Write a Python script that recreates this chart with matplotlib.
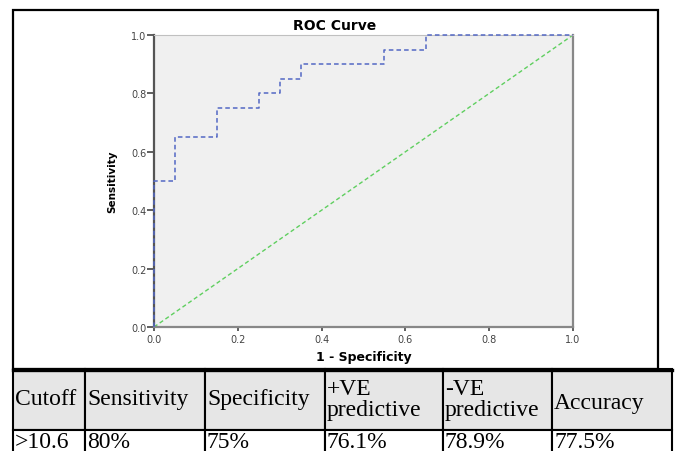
import matplotlib
matplotlib.use("Agg")
import matplotlib.pyplot as plt
from matplotlib.patches import Rectangle

# ROC curve corners (steps-post) and reference diagonal
fpr = [0.0, 0.0, 0.05, 0.15, 0.25, 0.30, 0.35, 0.55, 0.65, 1.0]
tpr = [0.0, 0.5, 0.65, 0.75, 0.80, 0.85, 0.90, 0.95, 1.0, 1.0]
diag_x = [0.0, 1.0]
diag_y = [0.0, 1.0]
ticks = [0.0, 0.2, 0.4, 0.6, 0.8, 1.0]
tick_labels = ["0.0", "0.2", "0.4", "0.6", "0.8", "1.0"]

# summary table under the chart
header = ["Cutoff", "Sensitivity", "Specificity", "+VE\npredictive", "-VE\npredictive", "Accuracy"]
row = [">10.6", "80%", "75%", "76.1%", "78.9%", "77.5%"]

W, H = 675, 452
fig = plt.figure(figsize=(W / 100, H / 100), dpi=100)

# overlay in pixel coordinates for the frame and the table
ov = fig.add_axes([0, 0, 1, 1], zorder=0)
ov.set_xlim(0, W)
ov.set_ylim(H, 0)
ov.axis("off")

ov.add_patch(Rectangle((13, 11), 645, 359, fill=False, ec="black", lw=1.6))

col_edges = [13, 85, 205, 325, 443, 552, 672]
head_top, head_bot, data_bot = 370, 431, 470
for i, txt in enumerate(header):
    x0, x1 = col_edges[i], col_edges[i + 1]
    ov.add_patch(Rectangle((x0, head_top), x1 - x0, head_bot - head_top,
                           fc="#e6e6e6", ec="black", lw=1.5, clip_on=False))
    ov.add_patch(Rectangle((x0, head_bot), x1 - x0, data_bot - head_bot,
                           fc="white", ec="black", lw=1.5, clip_on=False))
    ty = 404 if txt == "Accuracy" else 400
    ov.text(x0 + 2, ty, txt, ha="left", va="center", fontsize=17,
            family="Liberation Serif", linespacing=0.95)
    ov.text(x0 + 2, 448, row[i], ha="left", va="baseline", fontsize=17,
            family="Liberation Serif")
ov.plot([13, 672], [370.5, 370.5], color="black", lw=2.4, clip_on=False)

# ROC chart
ax = fig.add_axes([154 / W, 1 - 328 / H, 419 / W, 292 / H], zorder=2)
ax.set_facecolor("#f0f0f0")
ax.plot(diag_x, diag_y, color="#5fcf5f", lw=1.0, dashes=(3, 2), clip_on=False)
ax.plot(fpr, tpr, drawstyle="steps-post", color="#5368c4", lw=1.1,
        dashes=(3, 2), clip_on=False, zorder=3)
ax.set_xlim(0, 1)
ax.set_ylim(0, 1)
ax.set_xticks(ticks)
ax.set_xticklabels(tick_labels)
ax.set_yticks(ticks)
ax.set_yticklabels(tick_labels)
ax.tick_params(axis="both", labelsize=7, labelcolor="#444444", color="#444444",
               width=1.2)
ax.tick_params(axis="x", length=3, pad=2)
ax.tick_params(axis="y", length=5, pad=0.5)
for side, c, w in [("left", "#555555", 1.6), ("bottom", "#888888", 1.6),
                   ("right", "#888888", 1.6), ("top", "#c0c0c0", 0.8)]:
    ax.spines[side].set_color(c)
    ax.spines[side].set_linewidth(w)

ax.set_xlabel("1 - Specificity", fontsize=9, fontweight="bold", labelpad=4)
ax.set_ylabel("Sensitivity", fontsize=7.5, fontweight="bold", labelpad=10)
fig.text(335 / W, 1 - 26.5 / H, "ROC Curve", ha="center", va="center",
         fontsize=10, fontweight="bold")

fig.savefig("out.png", dpi=100)
